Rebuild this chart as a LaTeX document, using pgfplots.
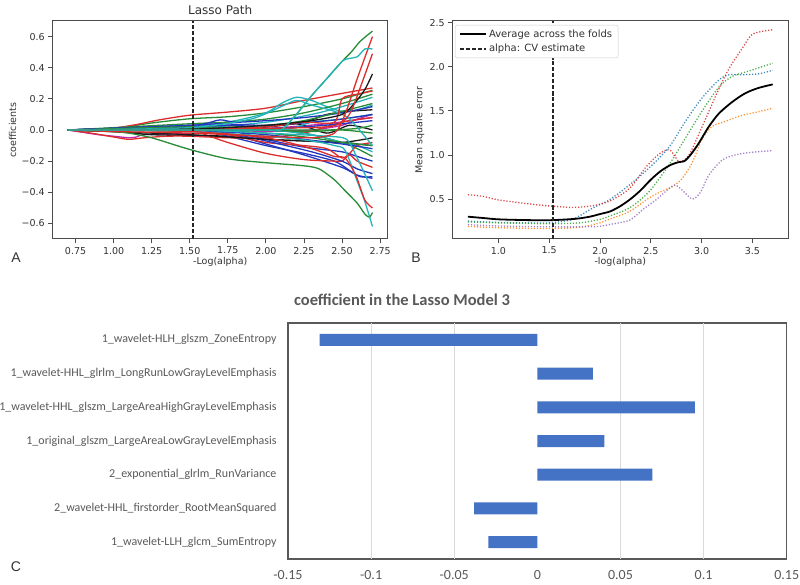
\documentclass[border=0pt]{standalone}
\usepackage{pgfplots}
\pgfplotsset{compat=1.18}
\usepackage{fontspec}
\setmainfont{DejaVu Sans}
\newfontfamily\carl{Carlito}
\newfontfamily\arial{Liberation Sans}
\definecolor{lnB}{RGB}{35,55,190}
\definecolor{lnG}{RGB}{40,140,55}
\definecolor{lnR}{RGB}{220,45,45}
\definecolor{lnC}{RGB}{35,180,185}
\definecolor{lnM}{RGB}{185,40,175}
\definecolor{lnK}{RGB}{25,25,25}
\definecolor{fdB}{HTML}{1F77B4}
\definecolor{fdO}{HTML}{FF7F0E}
\definecolor{fdG}{HTML}{2CA02C}
\definecolor{fdR}{HTML}{D62728}
\definecolor{fdP}{HTML}{9467BD}
\definecolor{txt}{RGB}{50,50,50}
\definecolor{labgray}{RGB}{89,89,89}
\definecolor{gridgray}{RGB}{217,217,217}
\definecolor{barblue}{RGB}{68,114,196}
\begin{document}
\begin{tikzpicture}
\useasboundingbox (0,0) rectangle (800pt,584pt);
% ---------------- Panel A ----------------
\begin{axis}[
  at={(52.7pt,345pt)}, anchor=south west, scale only axis,
  width=335pt, height=218pt,
  xmin=0.6, xmax=2.8, ymin=-0.7, ymax=0.7,
  axis line style={draw=black!70, line width=1pt},
  tick align=outside, xtick pos=left, ytick pos=left,
  major tick length=4.5pt, tick style={black!70, line width=0.9pt},
  xtick={0.75,1,1.25,1.5,1.75,2,2.25,2.5,2.75},
  xticklabels={0.75,1.00,1.25,1.50,1.75,2.00,2.25,2.50,2.75},
  ytick={-0.6,-0.4,-0.2,0,0.2,0.4,0.6},
  yticklabels={−0.6,−0.4,−0.2,0.0,0.2,0.4,0.6},
  tick label style={font=\fontsize{9.5}{11}\selectfont, text=txt},
  title={Lasso Path},
  title style={font=\fontsize{12}{14}\selectfont, text=txt, at={(axis description cs:0.5,1.0225)}, anchor=center},
  xlabel={-Log(alpha)},
  xlabel style={font=\fontsize{9.5}{11}\selectfont, text=txt, at={(axis description cs:0.5,-0.105)}, anchor=center},
  ylabel={coefficients},
  ylabel style={font=\fontsize{9.5}{11}\selectfont, text=txt, at={(axis description cs:-0.12,0.5)}, anchor=center},
  every axis plot/.append style={line width=1.3pt, smooth, tension=0.45},
  clip=true,
]
\addplot[lnB] coordinates {(0.7,0)(1.5,0.02)(1.75,-0.02)(2.0,-0.09)(2.25,-0.16)(2.5,-0.24)(2.6,-0.29)(2.7,-0.31)};
\addplot[lnG] coordinates {(0.7,0)(1.0,0.01)(1.25,0.045)(1.5,0.072)(1.75,0.085)(2.0,0.11)(2.25,0.15)(2.5,0.2)(2.7,0.255)};
\addplot[lnR] coordinates {(0.7,0)(0.85,0.003)(1.0,0.012)(1.15,0.035)(1.3,0.065)(1.5,0.095)(1.75,0.115)(2.0,0.14)(2.25,0.19)(2.5,0.235)(2.7,0.27)};
\addplot[lnC] coordinates {(0.7,0)(1.2,0.01)(1.5,0.02)(1.8,0.06)(2.0,0.11)(2.1,0.17)(2.2,0.21)(2.3,0.19)(2.4,0.15)(2.5,0.12)(2.6,0.13)(2.7,0.16)};
\addplot[lnM] coordinates {(0.7,0)(0.8,-0.015)(0.9,-0.03)(1.0,-0.04)(1.1,-0.05)(1.15,-0.045)(1.2,-0.03)(1.4,-0.025)(1.6,-0.02)(2.0,-0.01)(2.3,0.0)(2.5,0.03)(2.6,0.07)(2.7,0.1)};
\addplot[lnK] coordinates {(0.7,0)(1.0,-0.01)(1.25,-0.03)(1.5,-0.035)(1.75,-0.04)(2.0,-0.06)(2.25,-0.07)(2.5,-0.08)(2.7,-0.05)};
\addplot[lnB] coordinates {(0.7,0)(1.5,0.01)(1.75,-0.04)(2.0,-0.1)(2.25,-0.15)(2.45,-0.2)(2.55,-0.26)(2.62,-0.3)(2.7,-0.3)};
\addplot[lnG] coordinates {(0.7,0)(1.5,0.04)(1.75,0.05)(2.0,0.07)(2.25,0.11)(2.5,0.17)(2.7,0.23)};
\addplot[lnR] coordinates {(0.7,0)(1.5,-0.005)(1.6,-0.03)(1.75,-0.08)(2.0,-0.15)(2.25,-0.19)(2.45,-0.2)(2.5,-0.2)(2.55,-0.16)(2.6,-0.2)(2.7,-0.24)};
\addplot[lnC] coordinates {(0.7,0)(1.5,0.01)(2.0,0.05)(2.3,0.1)(2.5,0.15)(2.7,0.21)};
\addplot[lnM] coordinates {(0.7,0)(1.5,0.0)(2.0,0.01)(2.4,0.04)(2.55,0.06)(2.7,0.08)};
\addplot[lnK] coordinates {(0.7,0)(1.5,0.0)(2.0,0.02)(2.25,0.05)(2.4,0.1)(2.55,0.12)(2.7,0.13)};
\addplot[lnB] coordinates {(0.7,0)(1.5,0.03)(1.6,0.04)(1.7,0.065)(1.8,0.05)(2.0,0.06)(2.25,0.08)(2.5,0.11)(2.7,0.15)};
\addplot[lnG] coordinates {(0.7,0)(1.5,0.0)(1.75,0.0)(2.0,0.0)(2.25,-0.02)(2.5,-0.08)(2.6,-0.12)(2.7,-0.17)};
\addplot[lnR] coordinates {(0.7,0)(0.85,-0.02)(1.0,-0.045)(1.1,-0.06)(1.2,-0.05)(1.35,-0.04)(1.5,-0.04)(1.75,-0.05)(2.0,-0.05)(2.25,-0.02)(2.5,0.05)(2.7,0.08)};
\addplot[lnC] coordinates {(0.7,0)(1.5,0.0)(2.0,0.0)(2.3,-0.03)(2.5,-0.08)(2.6,-0.1)(2.7,-0.14)};
\addplot[lnB] coordinates {(0.7,0)(1.5,0.02)(1.75,0.0)(2.0,-0.06)(2.25,-0.11)(2.5,-0.14)(2.6,-0.17)(2.7,-0.2)};
\addplot[lnK] coordinates {(0.7,0)(1.5,0.0)(1.75,-0.01)(2.0,0.02)(2.2,0.04)(2.4,-0.02)(2.55,0.03)(2.7,0.0)};
\addplot[lnG] coordinates {(0.7,0)(1.5,0.0)(2.0,0.0)(2.4,0.0)(2.6,0.01)(2.7,0.03)};
\addplot[lnR] coordinates {(0.7,0)(1.5,0.01)(1.75,-0.03)(2.0,-0.08)(2.25,-0.1)(2.4,-0.12)(2.5,-0.18)(2.55,-0.15)(2.6,-0.1)(2.7,-0.08)};
\addplot[lnB] coordinates {(0.7,0)(1.5,0.0)(1.8,-0.03)(2.0,-0.07)(2.3,-0.14)(2.5,-0.2)(2.6,-0.25)(2.7,-0.28)};
\addplot[lnC] coordinates {(0.7,0)(1.5,0.0)(2.1,0.0)(2.3,0.05)(2.5,0.07)(2.7,0.1)};
\addplot[lnG] coordinates {(0.7,0)(1.5,0.01)(2.0,0.03)(2.25,0.06)(2.5,0.12)(2.7,0.17)};
\addplot[lnB] coordinates {(0.7,0)(1.5,0.03)(1.7,0.04)(2.0,0.03)(2.3,0.05)(2.5,0.07)(2.7,0.1)};
\addplot[lnK] coordinates {(0.7,0)(1.5,-0.03)(2.0,-0.06)(2.5,-0.08)(2.6,-0.09)(2.7,-0.1)};
\addplot[lnG] coordinates {(0.7,0)(1.5,0.0)(2.0,-0.02)(2.3,-0.05)(2.5,-0.08)(2.7,-0.1)};
\addplot[lnB] coordinates {(0.7,0)(1.5,0.02)(1.8,0.03)(2.0,0.01)(2.25,0.02)(2.5,0.04)(2.7,0.06)};
\addplot[lnG] coordinates {(0.7,0)(1.5,0.02)(2.0,0.0)(2.3,-0.01)(2.5,0.0)(2.7,-0.02)};
\addplot[lnB] coordinates {(0.7,0)(1.5,0.0)(2.0,-0.03)(2.25,-0.06)(2.5,-0.09)(2.7,-0.12)};
\addplot[lnC] coordinates {(0.7,0)(1.5,0.015)(1.9,0.07)(2.1,0.15)(2.2,0.19)(2.3,0.16)(2.45,0.12)(2.55,0.07)(2.7,-0.1)};
\addplot[lnR] coordinates {(0.7,0)(1.5,0)(2.0,0.02)(2.25,0.05)(2.45,0.05)(2.5,0.2)(2.6,0.23)(2.7,0.25)};
\addplot[lnG] coordinates {(0.7,0)(0.85,-0.005)(1.0,-0.01)(1.1,-0.02)(1.25,-0.05)(1.5,-0.125)(1.75,-0.185)(2.0,-0.21)(2.25,-0.23)(2.35,-0.25)(2.45,-0.32)(2.52,-0.39)(2.6,-0.47)(2.65,-0.54)(2.68,-0.56)(2.7,-0.53)};
\addplot[lnC] coordinates {(0.7,0)(1.5,-0.01)(2.0,-0.04)(2.3,-0.07)(2.45,-0.1)(2.52,-0.13)(2.6,-0.33)(2.65,-0.46)(2.7,-0.62)};
\addplot[lnC] coordinates {(0.7,0)(1.5,0.0)(2.0,-0.02)(2.4,-0.04)(2.53,-0.06)(2.6,-0.18)(2.7,-0.39)};
\addplot[lnR] coordinates {(0.7,0)(1.5,-0.01)(2.0,-0.05)(2.3,-0.12)(2.45,-0.17)(2.52,-0.18)(2.59,-0.29)(2.65,-0.45)(2.7,-0.50)};
\addplot[lnK] coordinates {(0.7,0)(1.5,0.005)(2.0,0.03)(2.3,0.06)(2.5,0.1)(2.58,0.17)(2.65,0.26)(2.7,0.36)};
\addplot[lnR] coordinates {(0.7,0)(1.0,-0.01)(1.5,-0.02)(2.0,-0.04)(2.3,-0.05)(2.45,-0.02)(2.52,0.1)(2.6,0.33)(2.7,0.60)};
\addplot[lnR] coordinates {(0.7,0)(1.5,0)(2.0,0.01)(2.4,0.02)(2.5,0.05)(2.56,0.12)(2.63,0.3)(2.7,0.49)};
\addplot[lnG] coordinates {(0.7,0)(1.5,0.0)(2.0,0.0)(2.1,0.0)(2.2,0.1)(2.3,0.22)(2.4,0.33)(2.5,0.44)(2.56,0.5)(2.62,0.57)(2.7,0.635)};
\addplot[lnC] coordinates {(0.7,0)(1.5,0.0)(2.0,0.0)(2.1,0.0)(2.2,0.1)(2.3,0.22)(2.4,0.33)(2.5,0.44)(2.55,0.46)(2.6,0.47)(2.65,0.52)(2.7,0.52)};
\addplot[black!85, line width=1.6pt, dash pattern=on 4pt off 2pt] coordinates {(1.52,-0.7)(1.52,0.7)};
\end{axis}
% ---------------- Panel B ----------------
\begin{axis}[
  at={(452.7pt,345pt)}, anchor=south west, scale only axis,
  width=335.3pt, height=218pt,
  xmin=0.55, xmax=3.85, ymin=0.047, ymax=2.519,
  axis line style={draw=black!70, line width=1pt},
  tick align=outside, xtick pos=left, ytick pos=left,
  major tick length=4.5pt, tick style={black!70, line width=0.9pt},
  xtick={1,1.5,2,2.5,3,3.5},
  xticklabels={1.0,1.5,2.0,2.5,3.0,3.5},
  ytick={0.5,1,1.5,2,2.5},
  yticklabels={0.5,1.0,1.5,2.0,2.5},
  tick label style={font=\fontsize{9.5}{11}\selectfont, text=txt},
  xlabel={-log(alpha)},
  xlabel style={font=\fontsize{9.5}{11}\selectfont, text=txt, at={(axis description cs:0.5,-0.105)}, anchor=center},
  ylabel={Mean square error},
  ylabel style={font=\fontsize{9.5}{11}\selectfont, text=txt, at={(axis description cs:-0.0975,0.5)}, anchor=center},
  every axis plot/.append style={smooth, tension=0.5},
  legend style={at={(axis description cs:0.007,0.982)}, anchor=north west, draw=black!20, rounded corners=2pt, fill=white, font=\fontsize{10}{12}\selectfont, text=txt, inner xsep=4pt, inner ysep=2.5pt, row sep=1.5pt},
  legend cell align=left,
  legend image code/.code={\draw[#1] (0pt,0pt) -- (26pt,0pt);},
]
\addplot[fdB, line width=1.3pt, opacity=0.85, dash pattern=on 1.2pt off 1.8pt, forget plot] coordinates {(0.7,0.25)(1.0,0.235)(1.3,0.23)(1.5,0.23)(1.7,0.26)(1.8,0.31)(1.93,0.40)(2.09,0.49)(2.29,0.66)(2.48,0.85)(2.68,1.09)(2.84,1.38)(3.0,1.64)(3.17,1.85)(3.27,1.91)(3.40,1.91)(3.56,1.92)(3.70,1.96)};
\addplot[fdO, line width=1.3pt, opacity=0.85, dash pattern=on 1.2pt off 1.8pt, forget plot] coordinates {(0.7,0.19)(1.0,0.175)(1.5,0.165)(1.8,0.18)(2.0,0.23)(2.09,0.27)(2.29,0.36)(2.48,0.51)(2.61,0.59)(2.71,0.64)(2.81,0.735)(2.91,0.92)(3.0,1.17)(3.10,1.32)(3.23,1.38)(3.40,1.45)(3.56,1.49)(3.70,1.53)};
\addplot[fdG, line width=1.3pt, opacity=0.85, dash pattern=on 1.2pt off 1.8pt, forget plot] coordinates {(0.7,0.24)(1.0,0.23)(1.5,0.22)(1.8,0.23)(2.0,0.27)(2.1,0.31)(2.29,0.40)(2.48,0.58)(2.68,0.89)(2.84,1.19)(3.0,1.49)(3.17,1.77)(3.30,1.89)(3.46,1.95)(3.70,2.04)};
\addplot[fdR, line width=1.3pt, opacity=0.85, dash pattern=on 1.2pt off 1.8pt, forget plot] coordinates {(0.7,0.55)(0.85,0.53)(1.0,0.49)(1.34,0.44)(1.52,0.42)(1.73,0.405)(1.93,0.425)(2.1,0.48)(2.29,0.62)(2.45,0.86)(2.58,1.01)(2.68,1.06)(2.745,0.97)(2.79,0.92)(2.875,1.0)(2.97,1.23)(3.07,1.49)(3.17,1.75)(3.27,1.98)(3.40,2.21)(3.49,2.36)(3.59,2.40)(3.70,2.42)};
\addplot[fdP, line width=1.3pt, opacity=0.85, dash pattern=on 1.2pt off 1.8pt, forget plot] coordinates {(0.7,0.21)(1.0,0.195)(1.5,0.185)(1.8,0.185)(2.0,0.19)(2.09,0.21)(2.29,0.26)(2.42,0.38)(2.55,0.49)(2.68,0.62)(2.74,0.66)(2.81,0.60)(2.91,0.50)(2.99,0.58)(3.07,0.77)(3.20,0.94)(3.33,1.0)(3.49,1.03)(3.70,1.05)};
\addplot[black, line width=1.8pt] coordinates {(0.7,0.30)(0.85,0.285)(1.0,0.27)(1.25,0.262)(1.5,0.26)(1.75,0.275)(1.9,0.30)(2.0,0.33)(2.1,0.36)(2.2,0.42)(2.3,0.50)(2.4,0.60)(2.5,0.72)(2.6,0.82)(2.7,0.89)(2.78,0.92)(2.83,0.93)(2.89,1.0)(2.97,1.13)(3.07,1.32)(3.17,1.47)(3.30,1.60)(3.43,1.70)(3.56,1.76)(3.70,1.80)};
\addlegendentry{Average across the folds}
\addplot[black!85, line width=1.6pt, dash pattern=on 4pt off 2pt] coordinates {(1.54,0.047)(1.54,2.519)};
\addlegendentry{alpha: CV estimate}
\end{axis}
% ---------------- Panel C ----------------
\begin{axis}[
  at={(288pt,25pt)}, anchor=south west, scale only axis,
  width=498.7pt, height=236pt,
  xbar, bar width=12pt,
  xmin=-0.15, xmax=0.15, ymin=0.5, ymax=7.5,
  axis line style={draw=labgray, line width=1.2pt},
  major tick length=0pt,
  xtick={-0.15,-0.1,-0.05,0,0.05,0.1,0.15},
  xticklabels={-0.15,-0.1,-0.05,0,0.05,0.1,0.15},
  extra x ticks={-0.1,-0.05,0.05,0.1}, extra x tick labels={},
  extra x tick style={grid=major, major grid style={gridgray, line width=0.8pt}},
  ytick={1,2,3,4,5,6,7},
  yticklabels={
    1\_wavelet-LLH\_glcm\_SumEntropy,
    2\_wavelet-HHL\_firstorder\_RootMeanSquared,
    2\_exponential\_glrlm\_RunVariance,
    1\_original\_glszm\_LargeAreaLowGrayLevelEmphasis,
    1\_wavelet-HHL\_glszm\_LargeAreaHighGrayLevelEmphasis,
    1\_wavelet-HHL\_glrlm\_LongRunLowGrayLevelEmphasis,
    1\_wavelet-HLH\_glszm\_ZoneEntropy},
  yticklabel style={font=\carl\fontsize{12}{14}\selectfont, text=labgray, anchor=east, inner xsep=0pt, xshift=-11.3pt},
  xticklabel style={font=\carl\fontsize{14}{16}\selectfont, text=labgray, anchor=center, inner sep=0pt, yshift=-16pt},
  title={coefficient in the Lasso Model 3},
  title style={font=\carl\bfseries\fontsize{16.5}{19}\selectfont, text=labgray, at={(axis description cs:0.2286,1.072)}, anchor=center},
]
\addplot[fill=barblue, draw=none] coordinates {(-0.0295,1)(-0.0381,2)(0.0692,3)(0.0403,4)(0.0948,5)(0.0334,6)(-0.131,7)};
\end{axis}
\node[font=\arial\fontsize{14}{16}\selectfont, text=txt] at (16pt,326pt) {A};
\node[font=\arial\fontsize{14}{16}\selectfont, text=txt] at (416pt,326pt) {B};
\node[font=\arial\fontsize{14}{16}\selectfont, text=txt] at (16pt,17pt) {C};
\end{tikzpicture}
\end{document}
